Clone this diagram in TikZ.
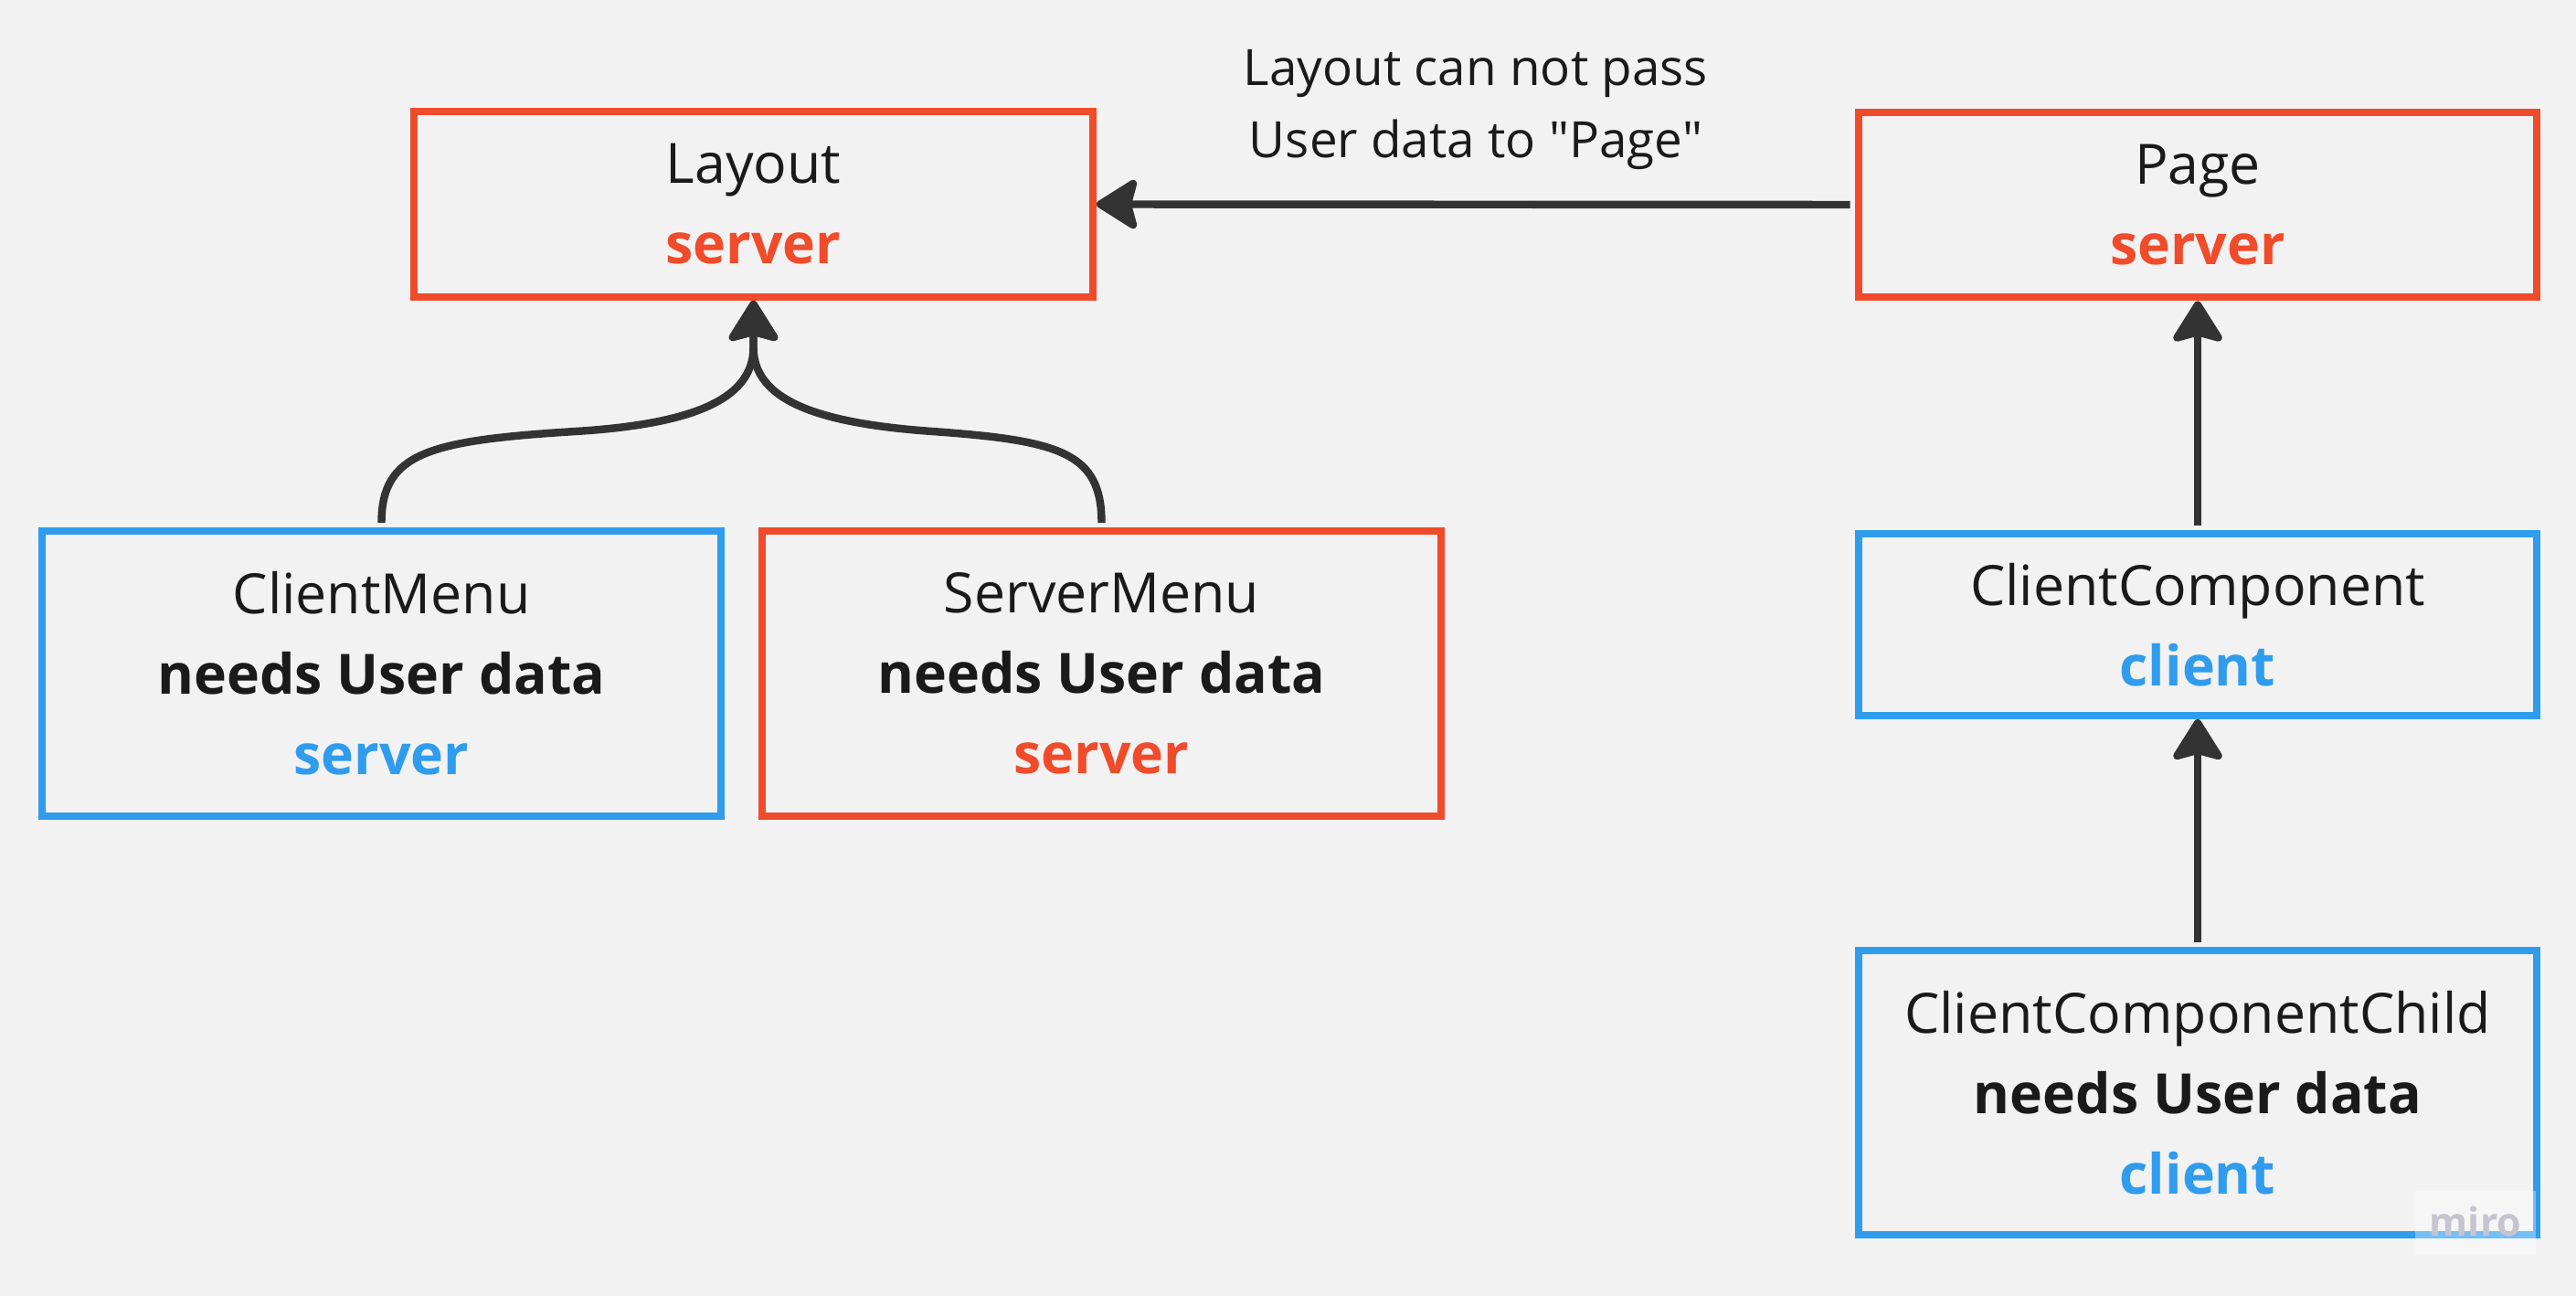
\documentclass[tikz,border=0pt]{standalone}
\usepackage{fontspec}
% straight quotes are kept as typed
\setmainfont{Open Sans}[Ligatures=TeXOff]
\usetikzlibrary{arrows.meta}

\definecolor{srvred}{RGB}{240,75,43}
\definecolor{clblue}{RGB}{47,156,238}
\definecolor{ink}{RGB}{26,26,26}
\definecolor{wire}{RGB}{51,51,51}
\definecolor{paper}{RGB}{242,242,242}
\definecolor{mark}{RGB}{198,196,208}

\newcommand\srvtag{\textbf{\color{srvred}server}}
\newcommand\clitag{\textbf{\color{clblue}client}}
\newcommand\clisrvtag{\textbf{\color{clblue}server}}
\newcommand\needs{\textbf{needs User data}}

\tikzset{
  comp/.style={draw, line width=2.4pt, minimum width=7.425cm, inner sep=0pt,
    align=center, font=\fontsize{17.3}{25}\selectfont, text=ink},
  srv/.style={comp, draw=srvred},
  cli/.style={comp, draw=clblue},
  link/.style={draw=wire, line width=2.4pt,
    -{Stealth[length=0.5cm, width=0.62cm, inset=0.08cm, round]}},
}

\begin{document}
\begin{tikzpicture}
  \fill[paper] (0,0) rectangle (28.19,-14.18);
  \useasboundingbox (0,0) rectangle (28.19,-14.18);

  % components
  \node[srv, minimum height=2.025cm] (layout) at (8.245,-2.235) {Layout\\\srvtag};
  \node[srv, minimum height=2.025cm] (page) at (24.05,-2.24) {Page\\\srvtag};
  \node[cli, minimum height=3.115cm] (cmenu) at (4.175,-7.37) {ClientMenu\\\needs\\\clisrvtag};
  \node[srv, minimum height=3.115cm] (smenu) at (12.055,-7.37) {ServerMenu\\\needs\\\srvtag};
  \node[cli, minimum height=1.985cm] (ccomp) at (24.05,-6.835) {ClientComponent\\\clitag};
  \node[cli, minimum height=3.105cm] (cchild) at (24.05,-11.955) {ClientComponentChild\\\needs\\\clitag};

  % note above the horizontal connector
  \node[font=\fontsize{15.6}{22.5}\selectfont, align=center, text=ink] (note)
    at (16.15,-1.2) {Layout can not pass\\User data to "Page"};

  % connectors
  \draw[link, shorten <=0.05cm] (page.west) -- (layout.east);
  \draw[link, shorten <=0.05cm] (ccomp.north) -- (page.south);
  \draw[link, shorten <=0.05cm] (cchild.north) -- (ccomp.south);

  \coordinate (cmtop) at ([yshift=0.05cm]cmenu.north);
  \coordinate (smtop) at ([yshift=0.05cm]smenu.north);
  \draw[link] (cmtop) .. controls (4.175,-4.95) and (4.7,-4.82) .. (6.3,-4.72)
    .. controls (7.5,-4.645) and (8.245,-4.4) .. (8.245,-3.8) -- (layout.south);
  \draw[link] (smtop) .. controls (12.055,-4.95) and (11.6,-4.82) .. (10.2,-4.72)
    .. controls (9.0,-4.634) and (8.245,-4.4) .. (8.245,-3.8) -- (layout.south);

  % watermark
  \fill[white, opacity=0.35] (26.43,-13.03) rectangle (27.75,-13.73);
  \node[font=\fontsize{12.2}{14}\selectfont\bfseries, text=mark, anchor=base] (wm)
    at (27.09,-13.52) {miro};
\end{tikzpicture}
\end{document}
